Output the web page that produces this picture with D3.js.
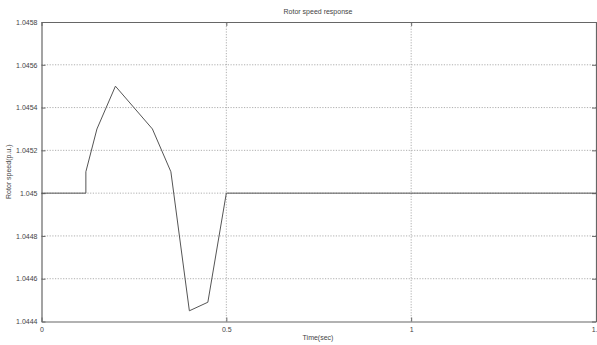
<!DOCTYPE html>
<html><head><meta charset="utf-8">
<script src="https://cdn.jsdelivr.net/npm/d3@7"></script>
<style>body{margin:0;background:#fff}svg{display:block}</style>
</head><body>
<script>
const timeValues = [0, 0.12, 0.12, 0.15, 0.2, 0.3, 0.35, 0.4, 0.45, 0.5, 1.5];
const speedValues = [1.045, 1.045, 1.0451, 1.0453, 1.0455, 1.0453, 1.0451, 1.04445, 1.04449, 1.045, 1.045];
const xTicks = [0, 0.5, 1, 1.5];
const yTicks = [1.0444, 1.0446, 1.0448, 1.045, 1.0452, 1.0454, 1.0456, 1.0458];
const title = "Rotor speed response";
const xLabel = "Time(sec)";
const yLabel = "Rotor speed(p.u.)";

const W = 597, H = 345;
const m = {left: 41.5, right: 1, top: 22, bottom: 23.5};
const svg = d3.select("body").append("svg").attr("width", W).attr("height", H);
const x = d3.scaleLinear().domain([0, 1.5]).range([m.left, W - m.right]);
const y = d3.scaleLinear().domain([1.0444, 1.0458]).range([H - m.bottom, m.top]);
const font = "Arial, 'Liberation Sans', sans-serif";
const gridC = "#9a9a9a";

// grid
svg.append("g").selectAll("line").data(yTicks.slice(1, -1)).join("line")
  .attr("x1", x(0)).attr("x2", x(1.5)).attr("y1", d => y(d)).attr("y2", d => y(d))
  .attr("stroke", gridC).attr("stroke-width", 0.8).attr("stroke-dasharray", "1.2,1.5");
svg.append("g").selectAll("line").data(xTicks.slice(1, -1)).join("line")
  .attr("y1", y(1.0444)).attr("y2", y(1.0458)).attr("x1", d => x(d)).attr("x2", d => x(d))
  .attr("stroke", gridC).attr("stroke-width", 0.8).attr("stroke-dasharray", "1.2,1.5");

// axes (inward ticks, MATLAB style)
const fmt = d => String(+d.toFixed(4));
const axL = svg.append("g").attr("transform", `translate(${x(0)},0)`)
  .call(d3.axisLeft(y).tickValues(yTicks).tickFormat(fmt).tickSizeInner(-4).tickSizeOuter(0).tickPadding(4));
const axR = svg.append("g").attr("transform", `translate(${x(1.5)},0)`)
  .call(d3.axisRight(y).tickValues(yTicks).tickFormat("").tickSizeInner(-4).tickSizeOuter(0));
const axB = svg.append("g").attr("transform", `translate(0,${y(1.0444)})`)
  .call(d3.axisBottom(x).tickValues(xTicks).tickFormat(fmt).tickSizeInner(-4).tickSizeOuter(0).tickPadding(6));
const axT = svg.append("g").attr("transform", `translate(0,${y(1.0458)})`)
  .call(d3.axisTop(x).tickValues(xTicks).tickFormat("").tickSizeInner(-4).tickSizeOuter(0));
[axL, axR, axB, axT].forEach(a => {
  a.selectAll("path").attr("stroke", "#666").attr("stroke-width", 1.2);
  a.selectAll("line").attr("stroke", "#666");
  a.selectAll("text").attr("font-family", font).attr("font-size", 7).attr("fill", "#444");
});

// line
svg.append("path")
  .datum(timeValues.map((t, i) => [t, speedValues[i]]))
  .attr("fill", "none").attr("stroke", "#555").attr("stroke-width", 1)
  .attr("d", d3.line().x(d => x(d[0])).y(d => y(d[1])));

// labels
svg.append("text").attr("x", 318).attr("y", 14).attr("text-anchor", "middle")
  .attr("font-family", font).attr("font-size", 7).attr("fill", "#444").text(title);
svg.append("text").attr("x", 318).attr("y", 340).attr("text-anchor", "middle")
  .attr("font-family", font).attr("font-size", 7).attr("fill", "#444").text(xLabel);
svg.append("text").attr("transform", `translate(11,${(m.top + H - m.bottom) / 2}) rotate(-90)`)
  .attr("text-anchor", "middle")
  .attr("font-family", font).attr("font-size", 7).attr("fill", "#444").text(yLabel);
</script>
</body></html>
